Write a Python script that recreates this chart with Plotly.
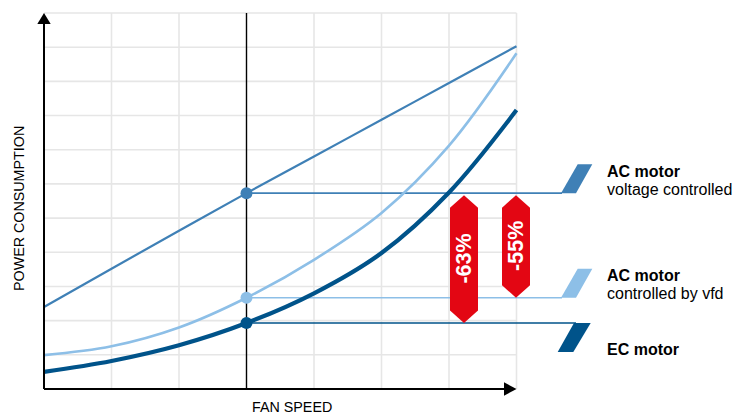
import plotly.graph_objects as go

# ---- data -------------------------------------------------------------
fan_speed = [0, 1, 2, 3, 4, 5, 6, 7]
ac_voltage = [2.40, 3.52, 4.63, 5.73, 6.80, 7.88, 8.95, 10.03]
ac_vfd = [0.99, 1.25, 1.80, 2.67, 3.78, 5.15, 7.12, 9.82]
ec_motor = [0.50, 0.82, 1.28, 1.93, 2.80, 3.98, 5.75, 8.16]
operating_point = 3          # index of the highlighted fan speed
savings = ["-63%", "-55%"]
labels = [("AC motor", "voltage controlled"),
          ("AC motor", "controlled by vfd"),
          ("EC motor", "")]

# ---- styling ----------------------------------------------------------
C_VOLT = "#3f80b6"
C_VFD = "#8dbfe7"
C_EC = "#00538a"
C_RED = "#e30613"
C_GRID = "#e6e6e6"
SANS = "Liberation Sans, Arial, sans-serif"

W, H = 736, 417
X_PX0, PX_PER_X = 44.0, 67.5     # pixel of x=0, pixels per x unit
Y_PX0, PX_PER_Y = 389.0, 34.18   # pixel of y=0, pixels per y unit
X_MAX, Y_MAX = 7, 11


def dx(px):
    return px / PX_PER_X


def dy(px):
    return px / PX_PER_Y


def ux(px):
    return (px - X_PX0) / PX_PER_X


def uy(py):
    return (Y_PX0 - py) / PX_PER_Y


fig = go.Figure()
shapes = []
annotations = []

# grid
for k in range(1, X_MAX + 1):
    if k == operating_point:
        continue
    shapes.append(dict(type="line", x0=k, x1=k, y0=0, y1=Y_MAX, layer="below",
                       line=dict(color=C_GRID, width=1.6)))
for k in range(1, Y_MAX + 1):
    shapes.append(dict(type="line", x0=0, x1=X_MAX, y0=k, y1=k, layer="below",
                       line=dict(color=C_GRID, width=1.6)))

# operating point marker line
shapes.append(dict(type="line", x0=operating_point, x1=operating_point, y0=0, y1=Y_MAX,
                   layer="below", line=dict(color="black", width=1.4)))

# reference levels at the operating point with slanted end tabs
levels = [ac_voltage[operating_point], ac_vfd[operating_point], ec_motor[operating_point]]
colors = [C_VOLT, C_VFD, C_EC]
tab_h = dy(29)
for i, (lvl, col) in enumerate(zip(levels, colors)):
    if i < 2:
        x_end = ux(562)
        shapes.append(dict(type="line", x0=operating_point, x1=x_end, y0=lvl, y1=lvl,
                           layer="below", line=dict(color=col, width=1.6)))
        xb0, xb1 = ux(561), ux(576)
        xt0, xt1 = ux(577.7), ux(592.3)
        path = (f"M {xb0},{lvl} L {xb1},{lvl} L {xt1},{lvl + tab_h} "
                f"L {xt0},{lvl + tab_h} Z")
    else:
        x_end = ux(576)
        shapes.append(dict(type="line", x0=operating_point, x1=x_end, y0=lvl, y1=lvl,
                           layer="below", line=dict(color=col, width=1.6)))
        xt0, xt1 = ux(574), ux(590.7)
        xb0, xb1 = ux(557.7), ux(573.3)
        path = (f"M {xt0},{lvl} L {xt1},{lvl} L {xb1},{lvl - tab_h} "
                f"L {xb0},{lvl - tab_h} Z")
    shapes.append(dict(type="path", path=path, fillcolor=col, line=dict(width=0),
                       layer="below"))

# curves
for ys, col, wd in [(ac_voltage, C_VOLT, 2.2), (ac_vfd, C_VFD, 2.6), (ec_motor, C_EC, 4.2)]:
    fig.add_trace(go.Scatter(x=fan_speed, y=ys, mode="lines",
                             line=dict(color=col, width=wd, shape="spline", smoothing=1.0),
                             hoverinfo="skip", showlegend=False))

fig.add_trace(go.Scatter(x=[operating_point] * 3, y=levels, mode="markers",
                         marker=dict(color=colors, size=12, line=dict(width=0)),
                         hoverinfo="skip", showlegend=False))

# axes with arrow heads
shapes.append(dict(type="line", x0=0, x1=0, y0=0, y1=Y_MAX - dy(10), layer="above",
                   line=dict(color="black", width=2)))
shapes.append(dict(type="path", layer="above", fillcolor="black", line=dict(width=0),
                   path=f"M {-dx(6.7)},{Y_MAX - dy(11)} L {dx(6.7)},{Y_MAX - dy(11)} "
                        f"L 0,{Y_MAX} Z"))
shapes.append(dict(type="line", x0=0, x1=X_MAX - dx(11), y0=0, y1=0, layer="above",
                   line=dict(color="black", width=2)))
shapes.append(dict(type="path", layer="above", fillcolor="black", line=dict(width=0),
                   path=f"M {X_MAX - dx(12.5)},{-dy(6.7)} L {X_MAX - dx(12.5)},{dy(6.7)} "
                        f"L {X_MAX},0 Z"))

# savings badges
top = levels[0] - dy(2)
badges = [(ux(464), levels[2], savings[0]), (ux(516), levels[1], savings[1])]
half_w = dx(14)
tip = dy(12.5)
for xc, bottom, txt in badges:
    path = (f"M {xc},{top} L {xc + half_w},{top - tip} L {xc + half_w},{bottom + tip} "
            f"L {xc},{bottom} L {xc - half_w},{bottom + tip} L {xc - half_w},{top - tip} Z")
    shapes.append(dict(type="path", path=path, fillcolor=C_RED, line=dict(width=0),
                       layer="above"))
    annotations.append(dict(x=xc + dx(0.5), y=(top + bottom) / 2, text=f"<b>{txt}</b>",
                            textangle=-90, showarrow=False, xanchor="center",
                            yanchor="middle",
                            font=dict(family=SANS, size=21.5, color="white")))

# series labels
label_rows = [(171.5, 189.5), (275.5, 293.5), (349.5, None)]
for (title, sub), (yt, ys) in zip(labels, label_rows):
    annotations.append(dict(x=ux(605), y=uy(yt), text=f"<b>{title}</b>", showarrow=False,
                            xanchor="left", yanchor="middle",
                            font=dict(family=SANS, size=16, color="black")))
    if sub:
        annotations.append(dict(x=ux(605), y=uy(ys), text=sub, showarrow=False,
                                xanchor="left", yanchor="middle",
                                font=dict(family=SANS, size=16, color="black")))

# axis titles
annotations.append(dict(x=ux(19), y=uy(209), text="POWER CONSUMPTION", textangle=-90,
                        showarrow=False, xanchor="center", yanchor="middle",
                        font=dict(family=SANS, size=14.3, color="black")))
annotations.append(dict(x=ux(292), y=uy(407), text="FAN SPEED", showarrow=False,
                        xanchor="center", yanchor="middle",
                        font=dict(family=SANS, size=14.3, color="black")))

fig.update_layout(
    width=W, height=H,
    margin=dict(l=0, r=0, t=0, b=0),
    paper_bgcolor="white", plot_bgcolor="white",
    shapes=shapes, annotations=annotations,
    xaxis=dict(range=[-X_PX0 / PX_PER_X, (W - X_PX0) / PX_PER_X], visible=False,
               fixedrange=True),
    yaxis=dict(range=[(Y_PX0 - H) / PX_PER_Y, Y_PX0 / PX_PER_Y], visible=False,
               fixedrange=True),
    showlegend=False,
)

fig.write_html("out.html")
